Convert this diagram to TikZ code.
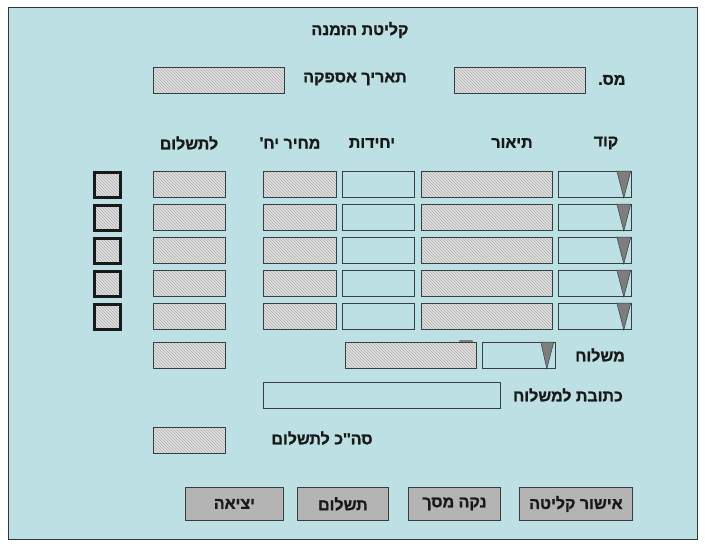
\documentclass[tikz,border=0pt]{standalone}
\usepackage{fontspec}
\usetikzlibrary{patterns,calc,positioning}
\TeXXeTstate=1
\newfontfamily\hebfont[Script=Hebrew,Ligatures=TeXOff,FakeBold=1.2]{Liberation Sans Bold}
\definecolor{formbg}{RGB}{188,224,227}
\definecolor{hatchbg}{RGB}{226,226,226}
\definecolor{btngray}{RGB}{180,180,180}
\definecolor{edgegray}{RGB}{55,62,64}
\definecolor{arrowgray}{RGB}{125,125,125}

\begin{document}
\begin{tikzpicture}[x=1pt,y=-1pt,
  lbl/.style={font=\hebfont\fontsize{16}{18}\selectfont, text=black!90, inner sep=0pt},
  field/.style={draw=edgegray, line width=0.8pt, anchor=north west, inner sep=0pt, minimum height=26pt},
  hatched/.style={field, preaction={fill=hatchbg}, pattern=north west lines, pattern color=gray!65},
  checkbox/.style={hatched, draw=black!90, line width=2.6pt, minimum width=26pt, minimum height=25pt},
  button/.style={draw=edgegray, line width=0.8pt, fill=btngray, anchor=north west, inner sep=0pt,
    minimum height=33pt, font=\hebfont\fontsize{16}{18}\selectfont, text=black!90},
  droparrow/.style={fill=arrowgray, draw=edgegray, line width=0.5pt}]

  \useasboundingbox (0,0) rectangle (705,547);
  \draw[fill=formbg, draw=black!80, line width=1pt] (8,7) rectangle (697,539);

  % heading and order data
  \node[lbl] (title) at (360,30) {\beginR קליטת הזמנה\endR};
  \node[hatched, minimum width=131pt] (ordno) at (454,67) {};
  \node[lbl, anchor=west] (ordnolbl) at (598,80) {\beginR מס.\endR};
  \node[hatched, minimum width=131pt] (supdate) at (153,67) {};
  \node[lbl] (supdatelbl) at (355,79) {\beginR תאריך אספקה\endR};

  % column titles
  \node[lbl] (hpay) at (189,143) {\beginR לתשלום\endR};
  \node[lbl] (hprice) at (290,143) {\beginR מחיר יח'\endR};
  \node[lbl] (hunits) at (372,143) {\beginR יחידות\endR};
  \node[lbl] (hdesc) at (512,143) {\beginR תיאור\endR};
  \node[lbl] (hcode) at (606,143) {\beginR קוד\endR};

  % item rows
  \foreach \r/\yy in {1/171,2/204,3/237,4/270,5/303}{
    \node[checkbox] (chk\r) at (93,\yy) {};
    \node[hatched, minimum width=72pt] (pay\r) at (153,\yy) {};
    \node[hatched, minimum width=73pt] (price\r) at (263,\yy) {};
    \node[field, minimum width=72pt] (units\r) at (342,\yy) {};
    \node[hatched, minimum width=131pt] (desc\r) at (421,\yy) {};
    \node[field, minimum width=73pt] (code\r) at (558,\yy) {};
    \draw[droparrow] ($(code\r.north east)+(-15,0)$) -- ($(code\r.north east)+(-1,0)$)
      -- ($(code\r.south east)+(-8,0)$) -- cycle;
  }

  % shipping
  \node[hatched, minimum width=72pt] (shipcost) at (153,342) {};
  \fill[arrowgray, rounded corners=1pt] (459,340) rectangle (473,343);
  \node[hatched, minimum width=131pt] (shipname) at (345,342) {};
  \node[field, minimum width=73pt] (shipcode) at (482,342) {};
  \draw[droparrow] ($(shipcode.north east)+(-15,0)$) -- ($(shipcode.north east)+(-2,0)$)
    -- ($(shipcode.south east)+(-9,0)$) -- cycle;
  \node[lbl] (shiplbl) at (600,355) {\beginR משלוח\endR};
  \node[field, minimum width=237pt] (addr) at (263,382) {};
  \node[lbl] (addrlbl) at (568,395) {\beginR כתובת למשלוח\endR};
  \node[hatched, minimum width=72pt] (total) at (153,427) {};
  \node[lbl] (totallbl) at (322,438) {\beginR סה''כ לתשלום\endR};

  % buttons
  \node[button, minimum width=98pt] (quit) at (185,487) {\beginR יציאה\endR};
  \node[button, minimum width=91pt] (paybtn) at (297,487) {\beginR תשלום\endR};
  \node[button, minimum width=92pt] (clear) at (408,487) {\beginR נקה מסך\endR};
  \node[button, minimum width=113pt] (confirm) at (519,487) {\beginR אישור קליטה\endR};
\end{tikzpicture}
\end{document}
